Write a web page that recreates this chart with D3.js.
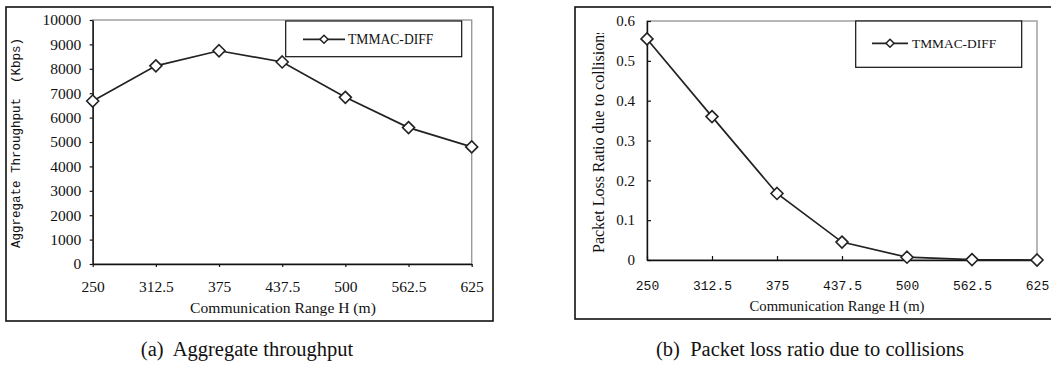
<!DOCTYPE html>
<html>
<head>
<meta charset="utf-8">
<script src="https://cdn.jsdelivr.net/npm/d3@7"></script>
<style>
  html, body { margin: 0; padding: 0; background: #fff; }
  svg { display: block; }
  text { fill: #111; }
</style>
</head>
<body>
<svg id="chart" width="1051" height="378"></svg>
<script>
// ---------------- data ----------------
const ranges = [250, 312.5, 375, 437.5, 500, 562.5, 625];
const throughput = [6680, 8120, 8740, 8280, 6830, 5590, 4800];
const lossRatio = [0.555, 0.36, 0.167, 0.045, 0.007, 0.001, 0];
const throughputTicks = [0, 1000, 2000, 3000, 4000, 5000, 6000, 7000, 8000, 9000, 10000];
const lossTicks = [0, 0.1, 0.2, 0.3, 0.4, 0.5, 0.6];
const xTickLabels = ["250", "312.5", "375", "437.5", "500", "562.5", "625"];
const seriesName = "TMMAC-DIFF";
const xTitle = "Communication Range H (m)";
const yTitleA = "Aggregate Throughput  (Kbps)";
const yTitleB = "Packet Loss Ratio due to collisions";
const captionA = "(a)  Aggregate throughput";
const captionB = "(b)  Packet loss ratio due to collisions";

const SERIF = "'Liberation Serif', 'Times New Roman', serif";
const MONO = "'Liberation Mono', 'Courier New', monospace";
const INK = "#222";

const svg = d3.select("#chart");

function diamond(g, x, y, r) {
  g.append("path")
    .attr("d", `M${x},${y - r}L${x + r},${y}L${x},${y + r}L${x - r},${y}Z`)
    .attr("fill", "#fff").attr("stroke", INK).attr("stroke-width", 1.6);
}

function panel(cfg) {
  const g = svg.append("g");
  // outer frame
  g.append("rect")
    .attr("x", cfg.box[0]).attr("y", cfg.box[1])
    .attr("width", cfg.box[2] - cfg.box[0]).attr("height", cfg.box[3] - cfg.box[1])
    .attr("fill", "none").attr("stroke", "#111").attr("stroke-width", 1.6);

  const x = d3.scaleLinear().domain([ranges[0], ranges[ranges.length - 1]]).range([cfg.plot[0], cfg.plot[2]]);
  const y = d3.scaleLinear().domain(cfg.yDomain).range([cfg.plot[3], cfg.plot[1]]);

  // plot area border (grey top/right)
  g.append("rect")
    .attr("x", cfg.plot[0]).attr("y", cfg.plot[1])
    .attr("width", cfg.plot[2] - cfg.plot[0]).attr("height", cfg.plot[3] - cfg.plot[1])
    .attr("fill", "none").attr("stroke", "#999").attr("stroke-width", 1.4);

  // y axis
  const yAxis = d3.axisLeft(y).tickValues(cfg.yTicks).tickFormat(cfg.yFormat)
    .tickSizeInner(cfg.yTickSize).tickSizeOuter(0).tickPadding(cfg.yPad);
  const ya = g.append("g").attr("transform", `translate(${cfg.plot[0]},0)`).call(yAxis);
  ya.selectAll("path").attr("stroke", "#111").attr("stroke-width", 1.4);
  ya.selectAll("line").attr("stroke", "#111").attr("stroke-width", 1.2);
  ya.selectAll("text").attr("font-family", SERIF).attr("font-size", cfg.yFont).attr("fill", "#111");

  // x axis
  const xAxis = d3.axisBottom(x).tickValues(ranges).tickFormat((d, i) => xTickLabels[i])
    .tickSizeInner(cfg.xTickSize).tickSizeOuter(0).tickPadding(cfg.xPad);
  const xa = g.append("g").attr("transform", `translate(0,${cfg.plot[3]})`).call(xAxis);
  xa.selectAll("path").attr("stroke", "#111").attr("stroke-width", 1.4);
  xa.selectAll("line").attr("stroke", "#111").attr("stroke-width", 1.2);
  xa.selectAll("text").attr("font-family", cfg.xFontFamily).attr("font-size", cfg.xFont).attr("fill", "#111");

  // line + markers
  const line = d3.line().x((d, i) => x(ranges[i])).y(d => y(d));
  g.append("path").datum(cfg.values).attr("d", line)
    .attr("fill", "none").attr("stroke", INK).attr("stroke-width", 1.7);
  cfg.values.forEach((v, i) => diamond(g, x(ranges[i]), y(v), 6));

  // legend
  const L = cfg.legend;
  g.append("rect").attr("x", L.box[0]).attr("y", L.box[1])
    .attr("width", L.box[2] - L.box[0]).attr("height", L.box[3] - L.box[1])
    .attr("fill", "#fff").attr("stroke", "#111").attr("stroke-width", 1.2);
  g.append("line").attr("x1", L.line[0]).attr("x2", L.line[1]).attr("y1", L.cy).attr("y2", L.cy)
    .attr("stroke", INK).attr("stroke-width", 1.7);
  const lm = (L.line[0] + L.line[1]) / 2;
  g.append("path").attr("d", `M${lm},${L.cy - 4}L${lm + 4},${L.cy}L${lm},${L.cy + 4}L${lm - 4},${L.cy}Z`)
    .attr("fill", "#fff").attr("stroke", INK).attr("stroke-width", 1.5);
  g.append("text").attr("x", L.textX).attr("y", L.cy).attr("dy", "0.35em")
    .attr("font-family", SERIF).attr("font-size", L.font).text(seriesName);

  // x title
  g.append("text").attr("x", cfg.xTitle[0]).attr("y", cfg.xTitle[1]).attr("text-anchor", "middle")
    .attr("font-family", SERIF).attr("font-size", cfg.xTitle[2]).text(xTitle);

  // caption
  svg.append("text").attr("x", cfg.caption[0]).attr("y", cfg.caption[1]).attr("text-anchor", "middle")
    .attr("font-family", SERIF).attr("font-size", cfg.caption[2]).style("white-space", "pre")
    .text(cfg.captionText);
  return g;
}

const gA = panel({
  box: [6, 7, 493, 321],
  plot: [92.7, 20, 471.7, 264],
  yDomain: [0, 10000], yTicks: throughputTicks, yFormat: d3.format("d"),
  yTickSize: 3, yPad: 8.5, yFont: 15.5,
  xTickSize: 3, xPad: 14, xFont: 15.5, xFontFamily: SERIF,
  values: throughput,
  legend: { box: [285.7, 21, 461.7, 56.7], line: [303, 345], cy: 39.3, textX: 348, font: 13.6 },
  xTitle: [283, 313, 15.6],
  caption: [247, 356, 20.5], captionText: captionA
});
gA.append("text")
  .attr("transform", "translate(17,143) rotate(-90)")
  .attr("text-anchor", "middle").attr("dominant-baseline", "central")
  .attr("font-family", MONO).attr("font-size", 12.5).style("white-space", "pre")
  .attr("fill", "#333").text(yTitleA);

const gB = panel({
  box: [575, 7, 1056, 319],
  plot: [647, 21, 1037, 260],
  yDomain: [0, 0.6], yTicks: lossTicks, yFormat: d3.format(".1~f"),
  yTickSize: -4, yPad: 12, yFont: 15,
  xTickSize: -4, xPad: 21, xFont: 13, xFontFamily: MONO,
  values: lossRatio,
  legend: { box: [855.7, 21, 1021.7, 67.3], line: [872, 908], cy: 43.3, textX: 912, font: 13.4 },
  xTitle: [837, 310.7, 14.7],
  caption: [810, 356, 20.5], captionText: captionB
});
svg.append("clipPath").attr("id", "clipB").append("rect")
  .attr("x", 576).attr("y", 33).attr("width", 60).attr("height", 280);
gB.append("g").attr("clip-path", "url(#clipB)").append("text")
  .attr("transform", "translate(598,253) rotate(-90)")
  .attr("text-anchor", "start").attr("dominant-baseline", "central")
  .attr("font-family", SERIF).attr("font-size", 16).text(yTitleB);
</script>
</body>
</html>
